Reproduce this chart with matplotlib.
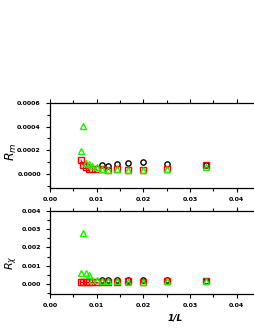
import matplotlib
matplotlib.use("Agg")
import matplotlib.pyplot as plt
from matplotlib.ticker import MultipleLocator

# === Data (1/L for L = 150 ... 30) ===
inv_L = [1/150, 1/140, 1/130, 1/120, 1/110, 1/100, 1/90, 1/80, 1/70, 1/60, 1/50, 1/40, 1/30]
inv_L_black = inv_L[6:]

rm_black = [0.77e-4, 0.66e-4, 0.83e-4, 0.89e-4, 0.97e-4, 0.80e-4, 0.72e-4]
rm_red = [1.17e-4, 0.74e-4, 0.55e-4, 0.38e-4, 0.38e-4, 0.38e-4, 0.38e-4,
          0.33e-4, 0.40e-4, 0.37e-4, 0.36e-4, 0.45e-4, 0.77e-4]
rm_green = [1.9e-4, 4.05e-4, 0.9e-4, 0.83e-4, 0.63e-4, 0.57e-4, 0.40e-4,
            0.34e-4, 0.40e-4, 0.37e-4, 0.34e-4, 0.43e-4, 0.57e-4]

rx_black = [0.24e-3, 0.22e-3, 0.24e-3, 0.24e-3, 0.22e-3, 0.24e-3, 0.20e-3]
rx_red = [0.10e-3, 0.10e-3, 0.10e-3, 0.10e-3, 0.10e-3, 0.10e-3, 0.14e-3,
          0.15e-3, 0.15e-3, 0.16e-3, 0.15e-3, 0.18e-3, 0.18e-3]
rx_green = [0.60e-3, 2.80e-3, 0.60e-3, 0.53e-3, 0.24e-3, 0.22e-3, 0.18e-3,
            0.18e-3, 0.18e-3, 0.13e-3, 0.10e-3, 0.16e-3, 0.16e-3]

fig = plt.figure(figsize=(2.55, 3.3), dpi=100)
ax1 = fig.add_axes([0.196, 0.430, 0.824, 0.258])
ax2 = fig.add_axes([0.196, 0.109, 0.824, 0.2525])

ms = 3.8
green = '#22ee00'

def draw(ax, black, red, grn, ylim, step, fmt):
    ax.plot(inv_L[:6], red[:6], '-', color='red', lw=0.8)
    ax.plot(inv_L_black, black, 'o', mfc='none', mec='black', ms=ms, mew=1.0)
    ax.plot(inv_L, red, 's', mfc='none', mec='red', ms=ms, mew=1.0)
    ax.plot(inv_L, grn, '^', mfc='none', mec=green, ms=ms, mew=1.0)
    ax.set_xlim(0, 0.045)
    ax.set_ylim(*ylim)
    ax.xaxis.set_major_locator(MultipleLocator(0.01))
    ax.xaxis.set_minor_locator(MultipleLocator(0.005))
    ax.yaxis.set_major_locator(MultipleLocator(step))
    ax.yaxis.set_minor_locator(MultipleLocator(step / 2))
    ax.xaxis.set_major_formatter(plt.FuncFormatter(lambda v, p: f'{v:.2f}'))
    ax.yaxis.set_major_formatter(plt.FuncFormatter(lambda v, p: fmt.format(v)))
    ax.tick_params(axis='x', which='both', direction='out', top=True, labelsize=4.5, length=3, width=0.8)
    ax.tick_params(axis='y', which='both', direction='out', labelsize=4.5, length=3, width=0.8)
    ax.tick_params(which='minor', length=2)
    for lbl in ax.get_xticklabels() + ax.get_yticklabels():
        lbl.set_fontweight('bold')
    ax.spines['right'].set_visible(False)
    for s in ['left', 'top', 'bottom']:
        ax.spines[s].set_linewidth(0.9)

draw(ax1, rm_black, rm_red, rm_green, (-0.00012, 0.0006), 0.0002, '{:.4f}')
draw(ax2, rx_black, rx_red, rx_green, (-0.00053, 0.004), 0.001, '{:.3f}')

fig.text(0.045, 0.54, r'$R_m$', rotation=90, fontsize=9, ha='center', va='center')
fig.text(0.045, 0.205, r'$R_\chi$', rotation=90, fontsize=8, ha='center', va='center')
fig.text(0.686, 0.036, '1/L', fontsize=6.5, fontstyle='italic', fontweight='bold', ha='center', va='center')

fig.savefig('out.png', dpi=100)
